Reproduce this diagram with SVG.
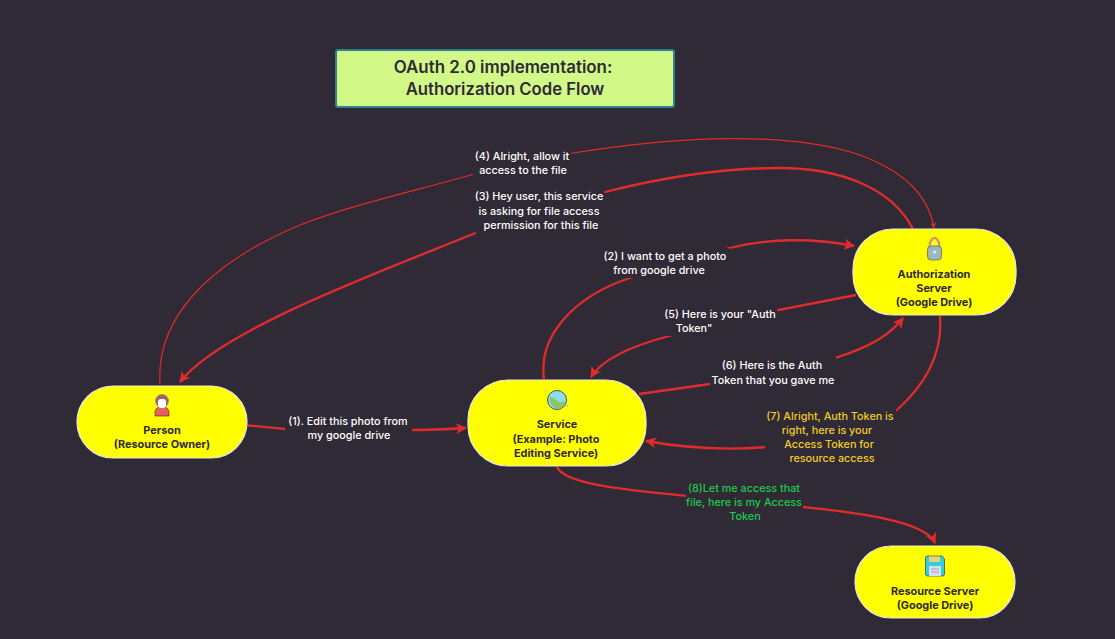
<svg xmlns="http://www.w3.org/2000/svg" width="1115" height="639" viewBox="0 0 1115 639">
<style>
text{font-family:Inter,"Open Sans","Liberation Sans",sans-serif;text-anchor:middle}
.n{fill:#ffff00;stroke:#e6e6e6;stroke-width:1.2}
.nt{font-size:10.9px;font-weight:700;fill:#2f2a35}
.c{fill:none;stroke:#e22b2b;stroke-width:2.3}
.t{fill:none;stroke:#e22b2b;stroke-width:1.2}
.w{font-size:10.8px;font-weight:500;fill:#ffffff}
.y{font-size:10.8px;font-weight:500;fill:#f0cd2a}
.g{font-size:10.8px;font-weight:500;fill:#20c94a}
.bg{fill:#2f2a35}
</style>
<defs>
<marker id="a" viewBox="0 0 10 10" refX="9" refY="5" markerWidth="6" markerHeight="6" markerUnits="userSpaceOnUse" orient="auto"><path d="M0 0L10 5L0 10L2.500 5Z" fill="#e22b2b"/></marker>
<marker id="b" viewBox="0 0 10 10" refX="9" refY="5" markerWidth="11" markerHeight="11" markerUnits="userSpaceOnUse" orient="auto"><path d="M0 0L10 5L0 10L2.500 5Z" fill="#e22b2b"/></marker>
</defs>
<rect width="1115" height="639" fill="#2f2a35"/>
<g id="title"><rect x="336" y="50" width="338" height="57" rx="2" fill="#d2f888" stroke="#2f7f95" stroke-width="2"/>
<text x="503" y="73" font-size="16.9" font-weight="600" fill="#2f2a35">OAuth 2.0 implementation:</text>
<text x="505" y="95" font-size="16.7" font-weight="600" fill="#2f2a35">Authorization Code Flow</text></g>
<g id="connectors">
<path class="c" d="M243 425C260 426 272 428 285 429L412 430C430 430 450 429 466 428" marker-end="url(#b)"/>
<path class="t" d="M160 384C156 320 205 265 300 225C360 202 420 190 474 174L573 153C680 136 790 131 860 155C905 172 928 195 934 228" marker-end="url(#a)"/>
<path class="c" d="M913 229C890 185 835 168 780 168C720 168 660 178 605 192L478 232C380 272 220 330 180 382" marker-end="url(#b)"/>
<path class="c" d="M544 379C538 335 575 296 630 278L729 248C770 238 815 238 854 246" marker-end="url(#b)"/>
<path class="c" d="M856 295L778 310L669 336C635 345 603 358 591 377" marker-end="url(#b)"/>
<path class="c" d="M639 394L710 384L835 358C870 347 890 335 903 318" marker-end="url(#b)"/>
<path class="c" d="M940 316C943 355 925 385 897 410L767 447C730 450 690 449 646 441" marker-end="url(#b)"/>
<path class="c" d="M557 467C565 485 630 490 687 496L804 507C850 512 925 520 935 543" marker-end="url(#b)"/>
</g>
<g id="labels">
<rect class="bg" x="285" y="414" width="127" height="30"/>
<text class="w"><tspan x="348" y="425">(1). Edit this photo from</tspan><tspan x="349" y="439">my google drive</tspan></text>
<rect class="bg" x="473" y="149" width="98" height="30"/>
<text class="w"><tspan x="522" y="160">(4) Alright, allow it</tspan><tspan x="523" y="174">access to the file</tspan></text>
<rect class="bg" x="476" y="188" width="128" height="46"/>
<text class="w"><tspan x="539" y="200">(3) Hey user, this service</tspan><tspan x="539" y="215">is asking for file access</tspan><tspan x="541" y="229">permission for this file</tspan></text>
<rect class="bg" x="601" y="248" width="128" height="30"/>
<text class="w"><tspan x="665" y="260">(2) I want to get a photo</tspan><tspan x="659" y="274">from google drive</tspan></text>
<rect class="bg" x="664" y="306" width="113" height="30"/>
<text class="w"><tspan x="720" y="318">(5) Here is your "Auth</tspan><tspan x="694" y="332">Token"</tspan></text>
<rect class="bg" x="710" y="357" width="126" height="30"/>
<text class="w"><tspan x="772" y="369">(6) Here is the Auth</tspan><tspan x="773" y="384">Token that you gave me</tspan></text>
<rect class="bg" x="765" y="408" width="131" height="58"/>
<text class="y"><tspan x="830" y="420">(7) Alright, Auth Token is</tspan><tspan x="827" y="434">right, here is your</tspan><tspan x="829" y="448">Access Token for</tspan><tspan x="832" y="462">resource access</tspan></text>
<rect class="bg" x="686" y="481" width="117" height="44"/>
<text class="g"><tspan x="744" y="492">(8)Let me access that</tspan><tspan x="744" y="506">file, here is my Access</tspan><tspan x="745" y="520">Token</tspan></text>
</g>
<g id="person"><rect class="n" x="77" y="386" width="170" height="72" rx="36"/>
<path d="M155 416V411Q156 408 159 407H165Q168 408 169 411V416Z" fill="#e8605f" stroke="#3a2a30" stroke-width=".6"/>
<circle cx="162" cy="401" r="6.500" fill="#a8625f" stroke="#7a8a9a" stroke-width=".8"/><rect x="158" y="399" width="8" height="9" rx="3" fill="#fff"/><rect x="159" y="397" width="6" height="2" fill="#a8625f"/>
<text class="nt"><tspan x="162" y="434">Person</tspan><tspan x="162" y="448">(Resource Owner)</tspan></text></g>
<g id="service"><rect class="n" x="468" y="380" width="178" height="86" rx="40"/>
<circle cx="557" cy="400" r="9.500" fill="#8fdcec" stroke="#2f5f5f" stroke-width="1"/><path d="M549 397Q555 397 558 402Q563 403 565 401Q565 408 558 409Q550 407 549 397Z" fill="#8fc46a"/>
<circle cx="546" cy="391" r="1" fill="#f5c46a"/><circle cx="567" cy="406" r="1.200" fill="#f5c46a"/>
<text class="nt"><tspan x="557" y="428">Service</tspan><tspan x="556" y="443">(Example: Photo</tspan><tspan x="556" y="457">Editing Service)</tspan></text></g>
<g id="auth"><rect class="n" x="853" y="229" width="163" height="86" rx="40"/>
<path d="M930 248V243Q934.500 233 939 243V248" fill="none" stroke="#d09a50" stroke-width="2.500"/><path d="M931.500 248V243Q934.500 236 937.500 243V248" fill="none" stroke="#f0e0d0" stroke-width=".8"/><rect x="927.500" y="246" width="14" height="14" rx="3.500" fill="#9fb8bc" stroke="#4a6266" stroke-width=".7"/><circle cx="934.500" cy="252" r="1.500" fill="#e8f0f0"/>
<text class="nt"><tspan x="934" y="278">Authorization</tspan><tspan x="934" y="292">Server</tspan><tspan x="934" y="306">(Google Drive)</tspan></text></g>
<g id="resource"><rect class="n" x="855" y="546" width="160" height="72" rx="36"/>
<path d="M925.500 558Q925.500 556 927.500 556H942L944.500 559V574Q944.500 576 942.500 576H927.500Q925.500 576 925.500 574Z" fill="#2fd0e0" stroke="#225" stroke-width=".6"/><rect x="929" y="556.500" width="11" height="5.500" fill="#f0d070"/><rect x="929" y="566" width="12" height="10" fill="#dde"/><path d="M931 569H939M931 572H939" stroke="#889" stroke-width=".7"/>
<text class="nt"><tspan x="935" y="595">Resource Server</tspan><tspan x="935" y="609">(Google Drive)</tspan></text></g>
</svg>
